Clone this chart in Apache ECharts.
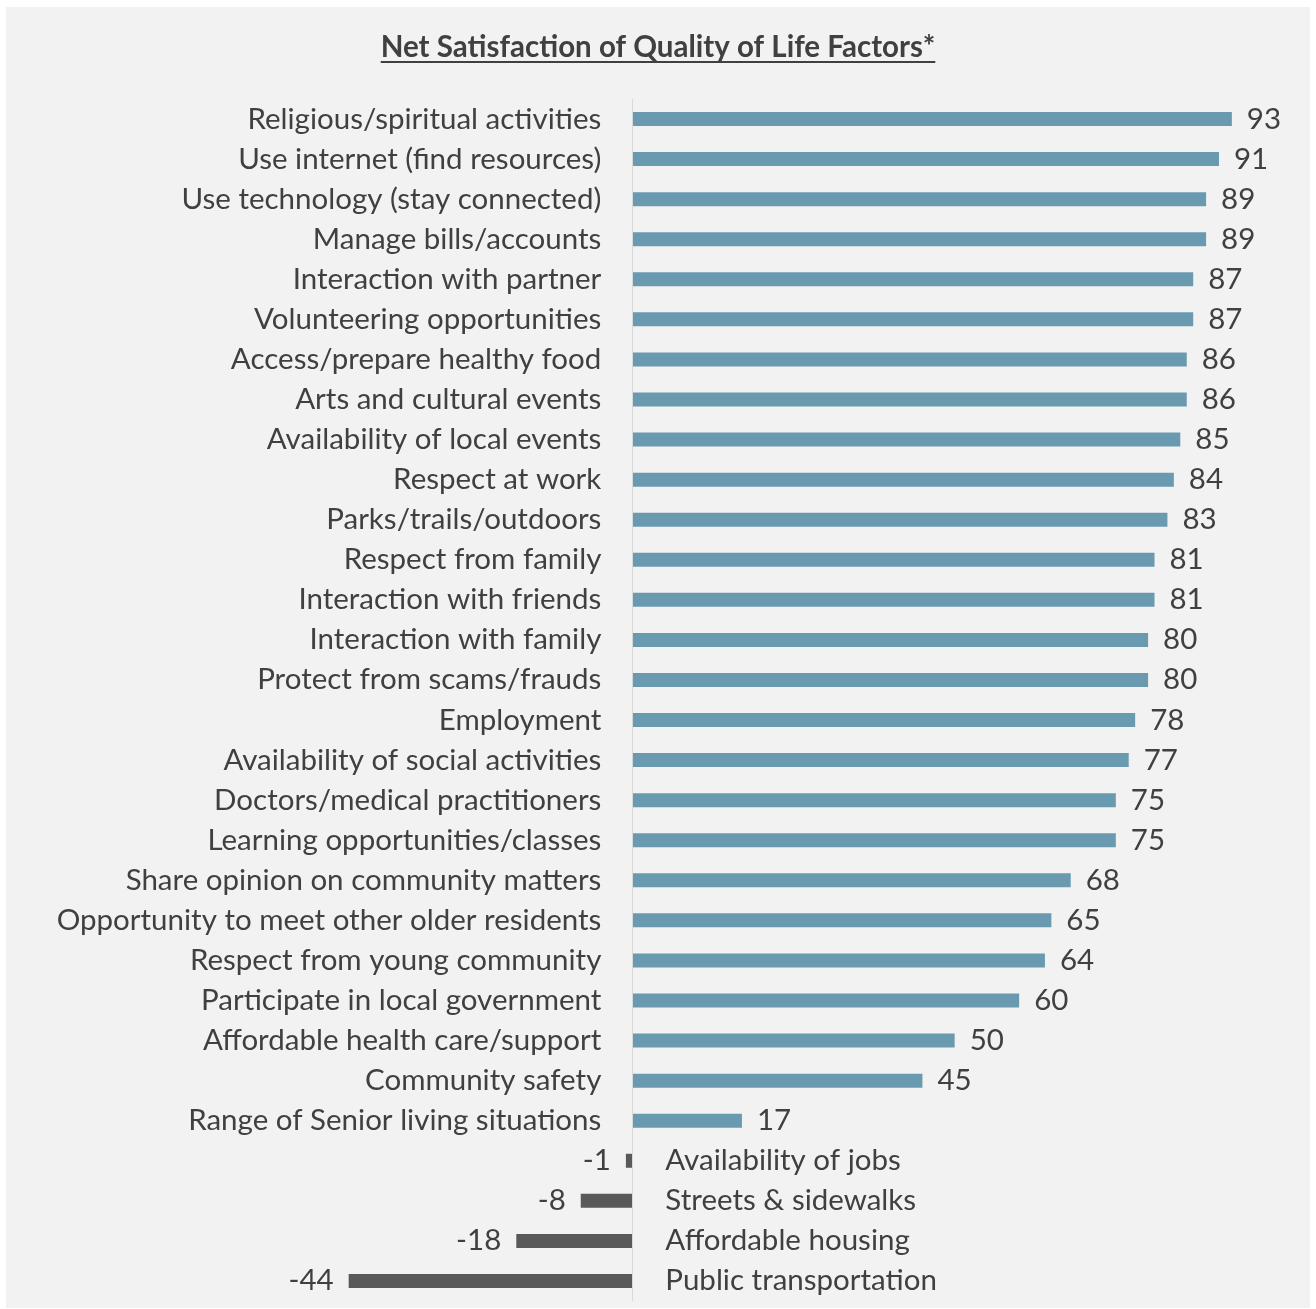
<!DOCTYPE html>
<html>
<head>
<meta charset="utf-8">
<script src="https://cdn.jsdelivr.net/npm/echarts@6/dist/echarts.min.js"></script>
<style>
html,body{margin:0;padding:0;background:#ffffff;}
#chart{width:1316px;height:1309px;}
</style>
</head>
<body>
<div id="chart"></div>
<script>
const titleText = 'Net Satisfaction of Quality of Life Factors*';
const categories = [
  'Religious/spiritual activities',
  'Use internet (find resources)',
  'Use technology (stay connected)',
  'Manage bills/accounts',
  'Interaction with partner',
  'Volunteering opportunities',
  'Access/prepare healthy food',
  'Arts and cultural events',
  'Availability of local events',
  'Respect at work',
  'Parks/trails/outdoors',
  'Respect from family',
  'Interaction with friends',
  'Interaction with family',
  'Protect from scams/frauds',
  'Employment',
  'Availability of social activities',
  'Doctors/medical practitioners',
  'Learning opportunities/classes',
  'Share opinion on community matters',
  'Opportunity to meet other older residents',
  'Respect from young community',
  'Participate in local government',
  'Affordable health care/support',
  'Community safety',
  'Range of Senior living situations',
  'Availability of jobs',
  'Streets & sidewalks',
  'Affordable housing',
  'Public transportation'
];
const values = [93,91,89,89,87,87,86,86,85,84,83,81,81,80,80,78,77,75,75,68,65,64,60,50,45,17,-1,-8,-18,-44];

const FONT = 'Lato, "Open Sans", sans-serif';
const TXT = '#404040';
const BLUE = '#6A9AB0';
const GRAY = '#595959';
const LABEL_SIZE = 29.5;
const TITLE_SIZE = 29.5;

// measure title width for underline
const cv = document.createElement('canvas').getContext('2d');
cv.font = 'bold ' + TITLE_SIZE + 'px Lato';
const tw = cv.measureText(titleText).width;
const tcx = 658, tcy = 47;

const chart = echarts.init(document.getElementById('chart'), null, {renderer: 'canvas'});
const option = {
  backgroundColor: '#ffffff',
  animation: false,
  graphic: [
    {type: 'rect', z: -10, silent: true, shape: {x: 6, y: 7, width: 1304, height: 1301}, style: {fill: '#F2F2F2'}},
    {type: 'text', z: 10, x: tcx, y: tcy, style: {text: titleText, font: 'bold ' + TITLE_SIZE + 'px Lato', fill: TXT, align: 'center', verticalAlign: 'middle'}},
    {type: 'line', z: 10, shape: {x1: tcx - tw / 2, y1: 62, x2: tcx + tw / 2, y2: 62}, style: {stroke: TXT, lineWidth: 2}}
  ],
  grid: {left: 310, top: 99, width: 967, height: 1202, containLabel: false, outerBoundsMode: 'none'},
  xAxis: {type: 'value', min: -50, max: 100, show: false, splitLine: {show: false}},
  yAxis: {
    type: 'category', data: categories, inverse: true,
    axisLine: {show: false},
    axisTick: {show: false},
    axisLabel: {show: false}
  },
  series: [
    {
      name: 'Net satisfaction', type: 'bar', barWidth: 14, z: 3,
      data: values.map(function (v) {
        return {
          value: v,
          itemStyle: {color: v >= 0 ? BLUE : GRAY},
          label: {position: v >= 0 ? 'right' : 'left'}
        };
      }),
      label: {show: true, distance: 15, fontSize: LABEL_SIZE, fontFamily: FONT, color: TXT, formatter: '{c}'},
      markLine: {
        silent: true, symbol: 'none', label: {show: false},
        lineStyle: {color: '#D9D9D9', width: 1, type: 'solid'},
        data: [{xAxis: 0}]
      }
    },
    {
      name: 'Category names', type: 'bar', barWidth: 14, barGap: '-100%', z: 2,
      data: values.map(function (v) {
        return {
          value: v,
          label: {position: v >= 0 ? 'left' : 'right', distance: v >= 0 ? 31 : 33}
        };
      }),
      itemStyle: {color: 'rgba(0,0,0,0)'},
      label: {show: true, fontSize: LABEL_SIZE, fontFamily: FONT, color: TXT,
        formatter: function (p) { return p.name; }}
    }
  ]
};
chart.setOption(option);
</script>
</body>
</html>
